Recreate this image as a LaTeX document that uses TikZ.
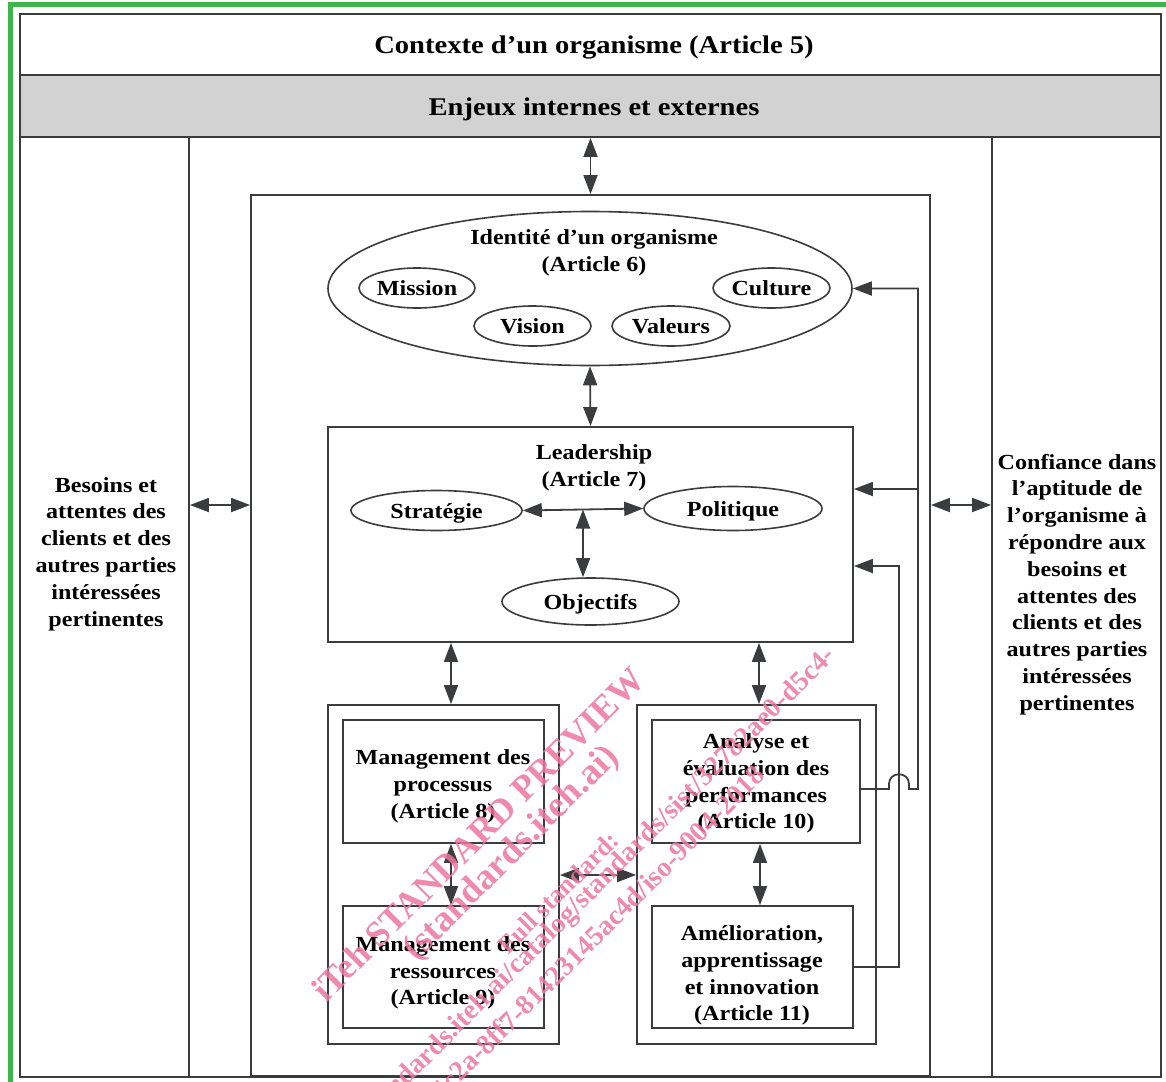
\documentclass[tikz,border=0pt]{standalone}
\usepackage{fontspec}
\setmainfont{Liberation Serif}[FakeStretch=1.12]
\newfontfamily\wmfont{Liberation Serif}
\usetikzlibrary{arrows.meta,shapes.geometric,calc}
\definecolor{ln}{RGB}{58,60,62}
\definecolor{grn}{RGB}{60,181,74}
\definecolor{band}{RGB}{209,210,209}
\definecolor{wmc}{RGB}{236,118,158}
\newcommand\bfnt{\fontsize{21.5}{26.8}\selectfont\bfseries}
\newcommand\hdfnt{\fontsize{25.5}{30}\selectfont\bfseries}
\begin{document}
\begin{tikzpicture}[x=1pt,y=-1pt,
  box/.style={draw=ln,line width=1.8pt,rectangle,inner sep=0pt},
  ell/.style={draw=ln,line width=1.6pt,ellipse,inner sep=0pt,font=\bfnt,text height=15pt,text depth=0pt},
  txt/.style={align=center,font=\bfnt,inner sep=0pt,yshift=-2.5pt},
  dbl/.style={draw=ln,line width=1.8pt,{Triangle[length=19pt,width=14pt]}-{Triangle[length=19pt,width=14pt]}},
  one/.style={draw=ln,line width=1.8pt,-{Triangle[length=19pt,width=14pt]}},
  wm/.style={text=wmc,opacity=0.85,inner sep=0pt,rotate=45}
]
\useasboundingbox (0,0) rectangle (1166,1081);
\draw[grn,line width=5pt] (10.5,5) rectangle (1185,1095);

% main frames
\node[box,minimum width=1141,minimum height=1063] (outer) at (590.5,545.5) {};
\node[box,fill=band,minimum width=1141,minimum height=62] (band) at (590.5,106) {};
\node[txt,font=\hdfnt] (title) at (594,45) {Contexte d’un organisme (Article 5)};
\node[txt,font=\hdfnt] (bandtxt) at (594,107) {Enjeux internes et externes};
\node[box,minimum width=169,minimum height=940] (leftcol) at (104.5,607) {};
\node[box,minimum width=169,minimum height=940] (rightcol) at (1076.5,607) {};
\node[box,minimum width=679,minimum height=881] (inner) at (590.5,635.5) {};
\node[txt] (lefttxt) at (106,551.5) {Besoins et\\attentes des\\clients et des\\autres parties\\intéressées\\pertinentes};
\node[txt] (righttxt) at (1077,582) {Confiance dans\\l’aptitude de\\l’organisme à\\répondre aux\\besoins et\\attentes des\\clients et des\\autres parties\\intéressées\\pertinentes};

% identity
\node[ell,minimum width=524,minimum height=154] (ident) at (590,288.5) {};
\node[txt] (identtxt) at (594,250.5) {Identité d’un organisme\\(Article 6)};
\node[ell,minimum width=116,minimum height=40] (mission) at (417,288) {Mission};
\node[ell,minimum width=117,minimum height=40] (culture) at (771.5,288) {Culture};
\node[ell,minimum width=117,minimum height=40] (vision) at (532.5,326) {Vision};
\node[ell,minimum width=118,minimum height=40] (valeurs) at (671,326) {Valeurs};

% leadership
\node[box,minimum width=525,minimum height=215] (lead) at (590.5,534.5) {};
\node[txt] (leadtxt) at (594,465.5) {Leadership\\(Article 7)};
\node[ell,minimum width=171,minimum height=40] (strat) at (436.5,510.5) {Stratégie};
\node[ell,minimum width=178,minimum height=44] (polit) at (733,508.5) {Politique};
\node[ell,minimum width=177,minimum height=47] (obj) at (590.5,601.5) {Objectifs};

% groups
\node[box,minimum width=231,minimum height=339] (grpL) at (443.5,874.5) {};
\node[box,minimum width=201,minimum height=123] (proc) at (443.5,781.5) {};
\node[txt] (proctxt) at (443,784) {Management des\\processus\\(Article 8)};
\node[box,minimum width=201,minimum height=122] (ress) at (443.5,967) {};
\node[txt] (resstxt) at (443,970.5) {Management des\\ressources\\(Article 9)};
\node[box,minimum width=239,minimum height=339] (grpR) at (756.5,874.5) {};
\node[box,minimum width=208,minimum height=123] (ana) at (756,781.5) {};
\node[txt] (anatxt) at (756,781) {Analyse et\\évaluation des\\performances\\(Article 10)};
\node[box,minimum width=201,minimum height=122] (amel) at (752.5,967) {};
\node[txt] (ameltxt) at (752,973) {Amélioration,\\apprentissage\\et innovation\\(Article 11)};

% connectors
\draw[dbl] (band.south) -- (inner.north);
\draw[dbl] (leftcol.east |- 0,505) -- (inner.west |- 0,505);
\draw[dbl] (inner.east |- 0,505) -- (rightcol.west |- 0,505);
\draw[dbl] (ident.south) -- (lead.north);
\draw[dbl] (strat.east) -- (polit.west);
\coordinate (sp) at (583,509.5);
\draw[dbl] (sp) -- (obj.north -| sp);
\draw[dbl] (lead.south -| 451,0) -- (grpL.north -| 451,0);
\draw[dbl] (lead.south -| 759,0) -- (grpR.north -| 759,0);
\draw[dbl] (proc.south -| 451,0) -- (ress.north -| 451,0);
\draw[dbl] (ana.south -| 760,0) -- (amel.north -| 760,0);
\draw[dbl] (grpL.east |- 0,875) -- (grpR.west |- 0,875);

% feedback loops
\draw[one] (amel.east |- 0,967) -- (899,967) -- (899,566) -- (lead.east |- 0,566);
\draw[one] (ana.east |- 0,789) -- (889,789) -- (889,784) .. controls (889,771) and (909,771) .. (909,784) -- (909,789) -- (918,789) -- (918,288.5) -- (ident.east);
\draw[one] (918,489) -- (lead.east |- 0,489);

% watermark
\begin{scope}
\clip (0,0) rectangle (1166,1081);
\node[wm,font=\wmfont\fontsize{36}{36}\selectfont\bfseries] (wm1) at (478,834) {iTeh STANDARD PREVIEW};
\node[wm,font=\wmfont\fontsize{37}{37}\selectfont\bfseries,anchor=east] (wm2) at (614,752) {(standards.iteh.ai)};
\node[wm,font=\wmfont\fontsize{26}{26}\selectfont\bfseries,anchor=east] (wm3) at (615,836) {Full standard:};
\node[wm,font=\wmfont\fontsize{28}{28}\selectfont\bfseries,anchor=east] (wm4) at (832,652) {https://standards.iteh.ai/catalog/standards/sist/32782ae0-d5c4-};
\node[wm,font=\wmfont\fontsize{28}{28}\selectfont\bfseries,anchor=east] (wm5) at (760,770) {4c2a-8ff7-81423145ac4d/iso-9004-2018};
\end{scope}
\end{tikzpicture}
\end{document}
